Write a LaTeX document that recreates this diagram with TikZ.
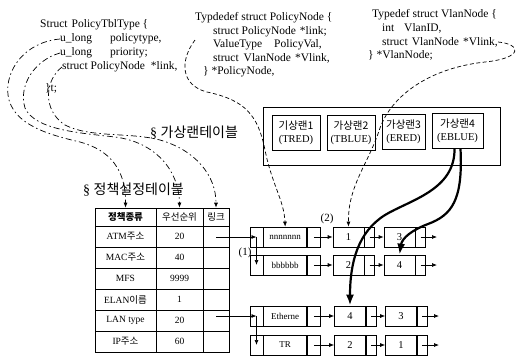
\documentclass[tikz,border=0pt]{standalone}
\usepackage{fontspec}
\setmainfont{Liberation Serif}
\newfontfamily\kr{Noto Sans CJK KR}
\usetikzlibrary{arrows.meta}

\begin{document}
\begin{tikzpicture}[x=1pt, y=-1pt,
  code/.style={anchor=west, inner sep=0pt, font=\fontsize{11.5}{13}\selectfont},
  ttl/.style={anchor=west, inner sep=0pt, font=\fontsize{14}{14}\selectfont},
  vlan/.style={draw, line width=0.7pt, minimum width=48pt, minimum height=35pt, inner sep=1pt, align=center, font=\fontsize{10.5}{13}\selectfont},
  tcell/.style={draw, line width=0.7pt, minimum height=21pt, inner sep=0pt, font=\fontsize{9.5}{10}\selectfont},
  kcol/.style={tcell, minimum width=61pt},
  pcol/.style={tcell, minimum width=47pt},
  lcol/.style={tcell, minimum width=26pt},
  cell/.style={draw, line width=0.7pt, minimum height=20pt, inner sep=0pt, font=\fontsize{9}{9}\selectfont},
  lcell/.style={cell, minimum width=13pt},
  pcell/.style={cell, minimum width=43pt},
  vcell/.style={cell, minimum width=31pt, font=\fontsize{10.5}{10}\selectfont},
  scell/.style={cell, minimum width=10pt},
  ptr/.style={-{Latex[length=5pt,width=4pt]}, line width=0.7pt},
  dptr/.style={ptr, dash pattern=on 4pt off 2.5pt},
  ddptr/.style={ptr, dash pattern=on 6pt off 3pt on 1.5pt off 3pt},
  bptr/.style={-{Latex[length=11pt,width=8pt]}, line width=2.2pt},
  lbl/.style={inner sep=0pt, font=\fontsize{11}{11}\selectfont}]
  \useasboundingbox (0,0) rectangle (521,357);

  % struct definitions
  \node[code] (s0) at (40,25) {Struct\hspace{4pt}PolicyTblType \{};
  \node[code] (f1) at (60,39) {\makebox[50pt][l]{u\_long}policytype,};
  \node[code] (f2) at (60,53) {\makebox[50pt][l]{u\_long}priority;};
  \node[code] (f3) at (62,67) {struct PolicyNode\hspace{6pt}*link,};
  \node[code] (s5) at (45,88) {\}t;};

  \node[code] (m1) at (195,18) {Typdedef struct PolicyNode \{};
  \node[code] (m2) at (213,31.5) {struct PolicyNode\hspace{4pt}*link;};
  \node[code] (m3) at (213,45) {ValueType\hspace{12pt}PolicyVal,};
  \node[code] (m4) at (213,58.5) {struct\hspace{5pt}VlanNode\hspace{4pt}*Vlink,};
  \node[code] (m5) at (203,72) {\} *PolicyNode,};

  \node[code] (r1) at (372,15) {Typedef\hspace{3pt}struct VlanNode \{};
  \node[code] (r2) at (382,28.5) {\makebox[22pt][l]{int}VlanID,};
  \node[code] (r3) at (382,42) {struct\hspace{4pt}VlanNode\hspace{4pt}*Vlink,};
  \node[code] (r4) at (368,55.5) {\} *VlanNode;};

  % virtual LAN table
  \node[ttl] (vtitle) at (150,133) {§ {\kr 가상랜테이블}};
  \node[draw, line width=0.7pt, minimum width=237pt, minimum height=58pt] (vtbl) at (381.5,136) {};
  \node[vlan] (v1) at (296,133) {{\kr 기상랜1}\\(TRED)};
  \node[vlan] (v2) at (351,133) {{\kr 가상랜2}\\(TBLUE)};
  \node[vlan, minimum width=43pt] (v3) at (403.5,132) {{\kr 가상랜3}\\(ERED)};
  \node[vlan, minimum width=51pt] (v4) at (457.5,131) {{\kr 가상랜4}\\(EBLUE)};

  % policy table
  \node[ttl] (ptitle) at (83,190) {§ {\kr 정책설정테이블}};
  \node[kcol, minimum height=18pt] (k0) at (125.5,217) {\kr\bfseries 정책종류};
  \node[pcol, minimum height=18pt] (p0) at (179.5,217) {\kr 우선순위};
  \node[lcol, minimum height=18pt] (l0) at (216,217) {\kr 링크};
  \node[kcol] (k1) at (125.5,236.5) {ATM{\kr 주소}};
  \node[pcol] (p1) at (179.5,236.5) {20};
  \node[lcol] (l1) at (216,236.5) {};
  \node[kcol] (k2) at (125.5,257.5) {MAC{\kr 주소}};
  \node[pcol] (p2) at (179.5,257.5) {40};
  \node[lcol] (l2) at (216,257.5) {};
  \node[kcol] (k3) at (125.5,278.5) {MFS};
  \node[pcol] (p3) at (179.5,278.5) {9999};
  \node[lcol] (l3) at (216,278.5) {};
  \node[kcol] (k4) at (125.5,299.5) {ELAN{\kr 이름}};
  \node[pcol] (p4) at (179.5,299.5) {1};
  \node[lcol] (l4) at (216,299.5) {};
  \node[kcol] (k5) at (125.5,320.5) {LAN type};
  \node[pcol] (p5) at (179.5,320.5) {20};
  \node[lcol] (l5) at (216,320.5) {};
  \node[kcol] (k6) at (125.5,341.5) {IP{\kr 주소}};
  \node[pcol] (p6) at (179.5,341.5) {60};
  \node[lcol] (l6) at (216,341.5) {};

  % policy node lists
  \node[lcell] (aL) at (256.5,237) {};
  \node[pcell, anchor=west] (aP) at (aL.east) {nnnnnnn};
  \node[lcell, anchor=west] (aR) at (aP.east) {};
  \node[vcell] (a1) at (348.5,237) {1};
  \node[scell, anchor=west] (a1s) at (a1.east) {};
  \node[vcell] (a2) at (399.5,237) {3};
  \node[scell, anchor=west] (a2s) at (a2.east) {};
  \coordinate (aEnd) at (437,237);

  \node[lcell] (bL) at (256.5,265) {};
  \node[pcell, anchor=west] (bP) at (bL.east) {bbbbbb};
  \node[lcell, anchor=west] (bR) at (bP.east) {};
  \node[vcell] (b1) at (348.5,265) {2};
  \node[scell, anchor=west] (b1s) at (b1.east) {};
  \node[vcell] (b2) at (399.5,265) {4};
  \node[scell, anchor=west] (b2s) at (b2.east) {};
  \coordinate (bEnd) at (437,265);

  \node[lcell] (cL) at (256.5,316) {};
  \node[pcell, anchor=west] (cP) at (cL.east) {Etherne};
  \node[lcell, anchor=west] (cR) at (cP.east) {};
  \node[vcell] (c1) at (350,316) {4};
  \node[scell, anchor=west] (c1s) at (c1.east) {};
  \node[vcell] (c2) at (401,316) {3};
  \node[scell, anchor=west] (c2s) at (c2.east) {};
  \coordinate (cEnd) at (439,316);

  \node[lcell] (dL) at (256.5,345) {};
  \node[pcell, anchor=west] (dP) at (dL.east) {TR};
  \node[lcell, anchor=west] (dR) at (dP.east) {};
  \node[vcell] (d1) at (350,345) {2};
  \node[scell, anchor=west] (d1s) at (d1.east) {};
  \node[vcell] (d2) at (401,345) {1};
  \node[scell, anchor=west] (d2s) at (d2.east) {};
  \coordinate (dEnd) at (439,345);

  \node[lbl] (one) at (245,253) {(1)};
  \node[lbl] (two) at (327,219) {(2)};

  % links between the nodes
  \draw[ptr] (l1.center |- aL.center) -- (aL.center);
  \draw[ptr] (l5.center |- cL.center) -- (cL.center);
  \draw[ptr] (aL.center) -- (bL.center);
  \draw[ptr] (cL.center) -- (dL.center);
  \draw[ptr] (aR.center) -- (a1.west);
  \draw[ptr] (a1s.center) -- (a2.west);
  \draw[ptr] (a2s.center) -- (aEnd);
  \draw[ptr] (bR.center) -- (b1.west);
  \draw[ptr] (b1s.center) -- (b2.west);
  \draw[ptr] (b2s.center) -- (bEnd);
  \draw[ptr] (cR.center) -- (c1.west);
  \draw[ptr] (c1s.center) -- (c2.west);
  \draw[ptr] (c2s.center) -- (cEnd);
  \draw[ptr] (dR.center) -- (d1.west);
  \draw[ptr] (d1s.center) -- (d2.west);
  \draw[ptr] (d2s.center) -- (dEnd);

  % struct fields to the table columns
  \draw[ddptr] (f1.west) .. controls (25,42) and (5,70) .. (8,95)
    .. controls (12,125) and (50,135) .. (80,142)
    .. controls (110,150) and (126,170) .. (k0.north);
  \draw[ddptr] (f2.west) .. controls (35,60) and (18,85) .. (25,108)
    .. controls (35,130) and (80,133) .. (115,137)
    .. controls (155,142) and (179,170) .. (p0.north);
  \draw[ddptr] (f3.west) .. controls (45,80) and (42,110) .. (65,125)
    .. controls (90,138) and (130,132) .. (160,140)
    .. controls (195,150) and (216,175) .. (l0.north);

  % struct types to the lists
  \coordinate (d1s) at (195,40);
  \draw[dptr] (d1s) .. controls (180,60) and (180,85) .. (207,92)
    .. controls (245,100) and (258,115) .. (265,150)
    .. controls (272,185) and (284,200) .. (aP.north);
  \draw[dptr] (r3.east) .. controls (521,44) and (524,58) .. (485,62)
    .. controls (430,68) and (392,95) .. (380,128)
    .. controls (368,165) and (348,185) .. (a1.north);

  % VLAN 4 to its entries
  \draw[bptr] ([xshift=-3pt]v4.south) .. controls (455,190) and (410,200) .. (385,215)
    .. controls (358,232) and (350,262) .. (c1.north);
  \draw[bptr] ([xshift=3pt]v4.south) .. controls (463,200) and (452,215) .. (428,224)
    .. controls (412,230) and (402,238) .. (b2.north);
\end{tikzpicture}
\end{document}
